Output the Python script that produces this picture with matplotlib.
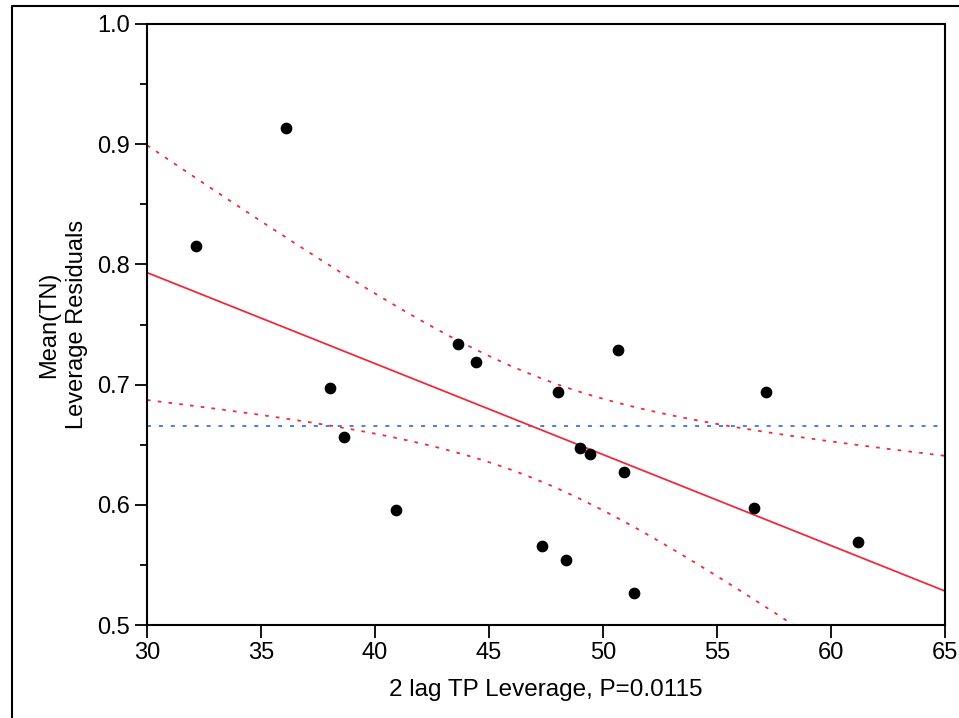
"""
Leverage plot of Mean(TN) residuals against 2 lag TP leverage.
"""

import numpy as np
import matplotlib.pyplot as plt
from matplotlib.lines import Line2D
from matplotlib.ticker import MultipleLocator

plt.rcParams['font.family'] = ['Liberation Sans', 'DejaVu Sans']

# leverage values (x) and leverage residuals (y)
tp_leverage = [32.15, 36.10, 38.03, 38.64, 40.92, 43.64, 44.43, 48.03, 50.66,
               48.99, 49.43, 50.92, 47.32, 48.38, 51.36, 56.62, 57.15, 61.18]
tn_residuals = [0.815, 0.9135, 0.697, 0.656, 0.596, 0.734, 0.719, 0.694, 0.729,
                0.647, 0.642, 0.627, 0.566, 0.554, 0.527, 0.597, 0.694, 0.569]
t_crit = 2.26  # critical value giving the band width seen in the chart

x = np.array(tp_leverage)
y = np.array(tn_residuals)
n = len(x)
slope, intercept = np.polyfit(x, y, 1)
resid = y - (intercept + slope * x)
s = np.sqrt(np.sum(resid ** 2) / (n - 2))
sxx = np.sum((x - x.mean()) ** 2)

xs = np.linspace(30, 65, 300)
fit = intercept + slope * xs
half = t_crit * s * np.sqrt(1 / n + (xs - x.mean()) ** 2 / sxx)

fig = plt.figure(figsize=(9.59, 7.18), dpi=100)
ax = fig.add_axes([147 / 959, 93 / 718, 798 / 959, 601 / 718])

red = '#ee2a3c'
blue = '#3c6ef0'
ax.axhline(y.mean(), color=blue, lw=1.3, linestyle=(0, (2.2, 4.4)), zorder=1)
ax.plot(xs, fit, color=red, lw=1.3, zorder=2)
ax.plot(xs, fit + half, color=red, lw=1.3, linestyle=(0, (2.0, 4.0)), zorder=2)
ax.plot(xs, fit - half, color=red, lw=1.3, linestyle=(0, (2.0, 4.0)), zorder=2)
ax.scatter(x, y, s=55, color='black', zorder=3)

ax.set_xlim(30, 65)
ax.set_ylim(0.5, 1.0)
ax.xaxis.set_major_locator(MultipleLocator(5))
ax.yaxis.set_major_locator(MultipleLocator(0.1))
ax.yaxis.set_minor_locator(MultipleLocator(0.05))
ax.yaxis.set_major_formatter(plt.FormatStrFormatter('%.1f'))
ax.tick_params(axis='both', which='major', length=9, width=1.3, labelsize=17,
               direction='out', pad=3)
ax.tick_params(axis='y', which='minor', length=5, width=1.3)
for sp in ax.spines.values():
    sp.set_linewidth(1.5)

ax.set_xlabel('2 lag TP Leverage, P=0.0115', fontsize=17.5, labelpad=11)
ax.set_ylabel('Mean(TN)\nLeverage Residuals', fontsize=17, labelpad=7,
              linespacing=1.35)

# outer frame (left and top edges)
fig.add_artist(Line2D([12 / 959, 12 / 959, 1.0], [0.0, 1 - 6 / 718, 1 - 6 / 718],
                      transform=fig.transFigure, color='black', lw=1.5))

fig.savefig('out.png', dpi=100)
